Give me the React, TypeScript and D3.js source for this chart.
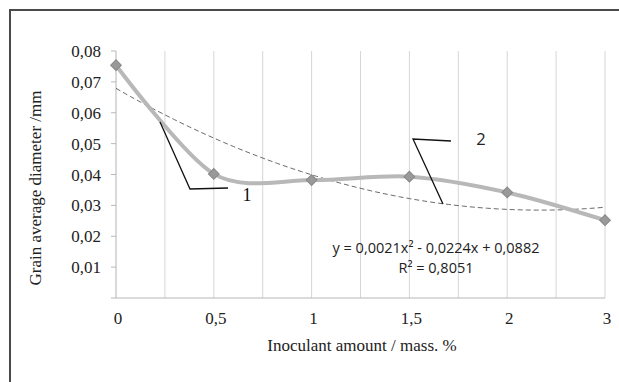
import React from 'react'
import * as d3 from 'd3'

const categories = ['0', '0,5', '1', '1,5', '2', '3']
const diameters = [0.0754, 0.0402, 0.0382, 0.0393, 0.0342, 0.0252]
const yTicks = [0.01, 0.02, 0.03, 0.04, 0.05, 0.06, 0.07, 0.08]
// trendline coefficients as printed on the chart (x = category index 1..n)
const trendCoef = [0.0021, -0.0224, 0.0882]
const equationText = 'y = 0,0021x² - 0,0224x + 0,0882'
const r2Text = 'R² = 0,8051'

const W = 619
const H = 382
const pad = { l: 116, r: 14, t: 51, b: 84 }
const serif = '"Liberation Serif", "Times New Roman", serif'
const sans = '"Open Sans", "Liberation Sans", sans-serif'

export default function App() {
  const x = d3.scaleLinear().domain([0, categories.length - 1]).range([pad.l, W - pad.r])
  const y = d3.scaleLinear().domain([0, 0.08]).range([H - pad.b, pad.t])

  const pts: [number, number][] = diameters.map((d, i) => [x(i), y(d)])
  const smooth = d3.line().curve(d3.curveCardinal.tension(0.1))(pts) || ''

  const trendX = d3.range(0, categories.length - 1 + 0.001, 0.05)
  const trend = d3.line<number>()
    .x(t => x(t))
    .y(t => {
      const k = t + 1
      return y(trendCoef[0] * k * k + trendCoef[1] * k + trendCoef[2])
    })(trendX) || ''

  const grid = d3.range(0, categories.length - 1 + 0.001, 0.5)
  const fmt = (v: number) => d3.format('.2f')(v).replace('.', ',')

  return (
    <div style={{ position: 'fixed', left: 0, top: 0 }}>
      <svg width={W} height={H} style={{ display: 'block', background: '#fff' }}>
        {/* frame (cut at right and bottom) */}
        <path d={`M10,${H} V10 H${W}`} fill="none" stroke="#4a4a4a" strokeWidth={2} />

        {/* vertical gridlines */}
        {grid.map(g => (
          <line key={g} x1={x(g)} x2={x(g)} y1={y(0.08)} y2={y(0)} stroke="#d6d6d6" strokeWidth={1} />
        ))}

        {/* axes */}
        <line x1={x(0)} x2={x(0)} y1={y(0.08)} y2={y(0)} stroke="#c8c8c8" strokeWidth={1} />
        <line x1={x(0) - 5} x2={x(categories.length - 1)} y1={y(0)} y2={y(0)} stroke="#b8b8b8" strokeWidth={1.2} />
        {yTicks.map(t => (
          <g key={t}>
            <line x1={x(0) - 5} x2={x(0)} y1={y(t)} y2={y(t)} stroke="#b8b8b8" />
            <text x={x(0) - 15} y={y(t) + 6} textAnchor="end" fontFamily={serif} fontSize={17} fill="#222">
              {fmt(t)}
            </text>
          </g>
        ))}
        {categories.map((c, i) => (
          <text key={c} x={x(i) + 2} y={y(0) + 26} textAnchor="middle" fontFamily={serif} fontSize={17} fill="#222">
            {c}
          </text>
        ))}

        {/* axis titles */}
        <text transform={`translate(41,188) rotate(-90)`} textAnchor="middle"
          fontFamily={serif} fontSize={17} fill="#222">
          Grain average diameter /mm
        </text>
        <text x={362} y={351} textAnchor="middle" fontFamily={serif} fontSize={17} fill="#222">
          Inoculant amount / mass. %
        </text>

        {/* trendline */}
        <path d={trend} fill="none" stroke="#444" strokeWidth={0.8} strokeDasharray="5,3" />

        {/* data series */}
        <path d={smooth} fill="none" stroke="#b8b8b8" strokeWidth={4} strokeLinecap="round" />
        {pts.map(([px, py], i) => (
          <rect key={i} x={px - 3.8} y={py - 3.8} width={7.6} height={7.6}
            transform={`rotate(45,${px},${py})`} fill="#999" stroke="#888" strokeWidth={1} />
        ))}

        {/* leader lines and labels */}
        <path d="M160,122 L190,189 L228,188" fill="none" stroke="#111" strokeWidth={1.3} />
        <text x={247} y={201} textAnchor="middle" fontFamily={serif} fontSize={18} fill="#111">1</text>
        <path d="M451,141 L413,139 L443,204" fill="none" stroke="#111" strokeWidth={1.3} />
        <text x={481} y={145} textAnchor="middle" fontFamily={sans} fontSize={16.5} fill="#222">2</text>

        {/* equation */}
        <text x={436} y={253} textAnchor="middle" fontFamily={sans} fontSize={14.5} fill="#222">{equationText}</text>
        <text x={436} y={273} textAnchor="middle" fontFamily={sans} fontSize={14.5} fill="#222">{r2Text}</text>
      </svg>
    </div>
  )
}
